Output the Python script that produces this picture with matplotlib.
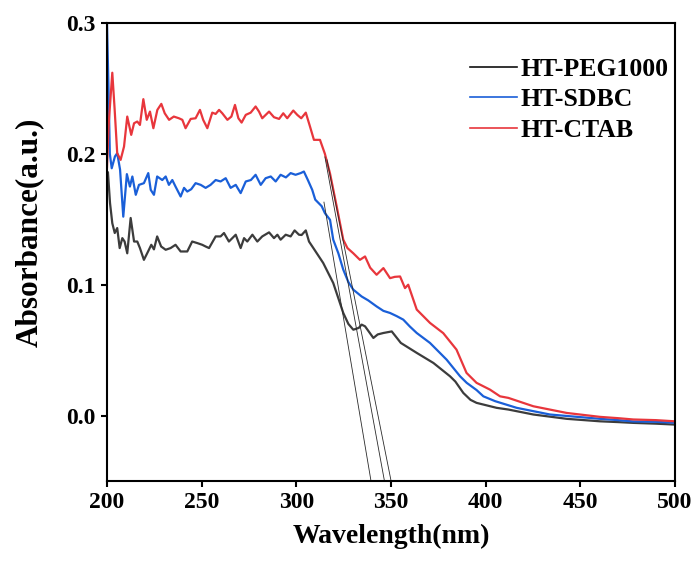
import matplotlib
matplotlib.use("Agg")
import matplotlib.pyplot as plt
from matplotlib.lines import Line2D

plt.rcParams['font.family'] = ['Liberation Serif', 'DejaVu Serif']
plt.rcParams['font.weight'] = 'bold'

# HT-PEG1000 (black)
wl_peg = [200, 200.5, 201.6, 202.8, 204.1, 205.4, 206.7, 208.1, 209.3, 210.7, 212.5, 214.3,
          216, 217.4, 219.5, 221.7, 223.4, 224.8, 226.5, 228.6, 231, 233.6, 236.2, 238.9,
          242.4, 245, 247.7, 250.3, 252.1, 253.9, 257.4, 260, 261.8, 264.4, 268, 270.6,
          272.4, 274.1, 276.8, 279.4, 282, 285.6, 288.2, 290, 291.7, 294.4, 297, 299.1,
          301.4, 302.8, 305, 306.7, 309, 314.2, 319.5, 324.8, 327.5, 330.1, 333, 334.5,
          336.3, 340.7, 343, 346, 350.4, 355.2, 363.6, 372.4, 381.2, 384, 388.2, 392,
          395.2, 405.8, 412, 425.2, 442.8, 460.4, 470, 478, 490, 500]
abs_peg = [0.178, 0.186, 0.1624, 0.147, 0.1395, 0.1433, 0.128, 0.1356, 0.133, 0.124, 0.151, 0.133,
           0.133, 0.128, 0.119, 0.1254, 0.1305, 0.127, 0.1369, 0.1292, 0.1267, 0.128, 0.1305, 0.1254,
           0.1254, 0.133, 0.1318, 0.1305, 0.1292, 0.128, 0.1369, 0.1369, 0.1395, 0.133, 0.1382, 0.128,
           0.1356, 0.133, 0.1382, 0.133, 0.1369, 0.140, 0.1356, 0.1382, 0.1344, 0.1382, 0.1369, 0.1415,
           0.1382, 0.138, 0.1415, 0.133, 0.128, 0.1166, 0.1013, 0.0784, 0.070, 0.0656, 0.067, 0.0695,
           0.0682, 0.0593, 0.062, 0.0631, 0.0643, 0.0555, 0.0479, 0.0402, 0.030, 0.026, 0.0173, 0.012,
           0.0097, 0.0059, 0.0046, 0.0008, -0.0025, -0.0044, -0.0050, -0.0056, -0.0062, -0.0069]

# HT-SDBC (blue)
wl_sdbc = [200, 200.8, 201.5, 202.5, 204.2, 205.4, 206.9, 208.6, 210.5, 212.1, 213.4, 215.2,
           216.9, 219.5, 221.8, 223.1, 224.8, 226.5, 229.2, 231, 232.7, 234.5, 236.2, 238.9,
           240.7, 242.4, 244.5, 246.8, 249.5, 252.1, 254.7, 257.4, 260, 262.7, 265.3, 268,
           270.6, 273.3, 276, 278.5, 281.2, 283.8, 286.5, 289.1, 291.7, 294.5, 297, 299.6,
           302.3, 304, 306.1, 308.4, 310, 313.4, 315.1, 317.8, 319.5, 322.2, 324.8, 327.5,
           330.1, 334.5, 338, 342.4, 346, 349.5, 353, 356.5, 360, 363.6, 370.6, 379.4,
           386.5, 390, 395.2, 398.8, 405, 416.4, 434, 460.4, 470, 478, 490, 500]
abs_sdbc = [0.300, 0.250, 0.200, 0.189, 0.198, 0.2005, 0.188, 0.152, 0.1845, 0.175, 0.1827, 0.1687,
            0.1763, 0.1776, 0.1853, 0.1725, 0.1687, 0.1827, 0.180, 0.1827, 0.1763, 0.180, 0.175, 0.1674,
            0.174, 0.1712, 0.173, 0.1776, 0.1763, 0.174, 0.1763, 0.180, 0.1789, 0.1814, 0.174, 0.1763,
            0.170, 0.1789, 0.180, 0.184, 0.1763, 0.1814, 0.1827, 0.1789, 0.184, 0.182, 0.1853, 0.184,
            0.1853, 0.1865, 0.180, 0.1725, 0.165, 0.160, 0.1547, 0.1496, 0.1344, 0.124, 0.1115, 0.102,
            0.0962, 0.091, 0.088, 0.0834, 0.080, 0.0784, 0.076, 0.0733, 0.068, 0.0631, 0.0555, 0.0427,
            0.030, 0.025, 0.0195, 0.0147, 0.011, 0.0059, 0.0008, -0.0025, -0.0035, -0.0045, -0.0048, -0.0055]

# HT-CTAB (red)
wl_ctab = [200, 201, 202.8, 204, 205.4, 207.2, 209, 210.7, 212.8, 214.3, 216, 217.4,
           219.2, 221, 222.7, 224.5, 226.6, 228.7, 230.5, 232.8, 235.3, 238, 239.8, 241.5,
           244.2, 246.8, 249.1, 250.8, 253, 255.6, 257.4, 259.2, 260.9, 263.6, 265.7, 267.6,
           269.4, 271.1, 273.3, 275.9, 278.5, 280.3, 282, 285.6, 288.2, 290.9, 293.1, 295.2,
           298.4, 300.5, 302.6, 305, 307.2, 309.3, 312.5, 315.1, 317.8, 321.3, 324.8, 327,
           330.1, 333.6, 336.3, 339, 342.4, 346, 349.5, 352, 354.8, 357.4, 359.1, 363.6,
           370.6, 377.6, 384.6, 389.9, 395.2, 402.3, 407.6, 412, 425.2, 442.8, 460.4, 470,
           478, 490, 500]
abs_ctab = [0.190, 0.225, 0.262, 0.235, 0.2005, 0.1954, 0.2056, 0.2285, 0.2145, 0.2234, 0.2247, 0.2221,
            0.2418, 0.226, 0.2323, 0.2196, 0.2336, 0.2382, 0.231, 0.226, 0.2285, 0.2272, 0.226, 0.2196,
            0.2267, 0.2272, 0.2336, 0.226, 0.2196, 0.2315, 0.2305, 0.2336, 0.231, 0.226, 0.2285, 0.2374,
            0.2272, 0.2239, 0.2298, 0.2315, 0.2362, 0.2323, 0.2272, 0.2323, 0.228, 0.2267, 0.231, 0.2272,
            0.2331, 0.2298, 0.2272, 0.2315, 0.221, 0.2107, 0.2107, 0.200, 0.185, 0.160, 0.1344, 0.128,
            0.124, 0.119, 0.1216, 0.113, 0.1076, 0.1127, 0.105, 0.106, 0.1063, 0.0974, 0.100, 0.081,
            0.0708, 0.063, 0.0504, 0.0326, 0.025, 0.0198, 0.0147, 0.0135, 0.0071, 0.002, -0.001, -0.002,
            -0.003, -0.0035, -0.0044]

# tangent lines (start, end) for band-edge estimate
tan1_x = [314.6, 339.4]
tan1_y = [0.1631, -0.0496]
tan2_x = [315.1, 346.5]
tan2_y = [0.1977, -0.0496]
tan3_x = [316.2, 350.0]
tan3_y = [0.1954, -0.0496]

labels = ['HT-PEG1000', 'HT-SDBC', 'HT-CTAB']
colors = ['#3c3c3c', '#1a5fd8', '#e8363c']

fig = plt.figure(figsize=(6.97, 5.68), dpi=100)
ax = fig.add_axes([0.1535, 0.1532, 0.8149, 0.8063])

ax.plot(wl_peg, abs_peg, color=colors[0], lw=1.6)
ax.plot(wl_sdbc, abs_sdbc, color=colors[1], lw=1.6)
ax.plot(wl_ctab, abs_ctab, color=colors[2], lw=1.6)

for tx, ty in [(tan1_x, tan1_y), (tan2_x, tan2_y), (tan3_x, tan3_y)]:
    ax.plot(tx, ty, color='#2a2a2a', lw=0.6)

ax.set_xlim(200, 500)
ax.set_ylim(-0.05, 0.3)
ax.set_xticks([200, 250, 300, 350, 400, 450, 500])
ax.set_yticks([0.0, 0.1, 0.2, 0.3])
ax.set_yticklabels(['0.0', '0.1', '0.2', '0.3'])

for s in ax.spines.values():
    s.set_linewidth(1.5)
ax.tick_params(direction='out', length=4.5, width=1.5, labelsize=17)
for lab in ax.get_xticklabels() + ax.get_yticklabels():
    lab.set_fontweight('bold')

ax.set_xlabel('Wavelength(nm)', fontsize=20, fontweight='bold', labelpad=8)
ax.set_ylabel('Absorbance(a.u.)', fontsize=22.5, fontweight='bold')
ax.yaxis.set_label_coords(-0.111, 0.544)

handles = [Line2D([], [], color=c, lw=1.2) for c in ['#111111', colors[1], colors[2]]]
ax.legend(handles, labels, loc='upper right', bbox_to_anchor=(1.03, 0.975), frameon=False,
          prop={'family': 'Liberation Serif', 'weight': 'bold', 'size': 18.5},
          handlelength=1.85, handletextpad=0.15, labelspacing=0.3)

fig.savefig('out.png', dpi=100)
